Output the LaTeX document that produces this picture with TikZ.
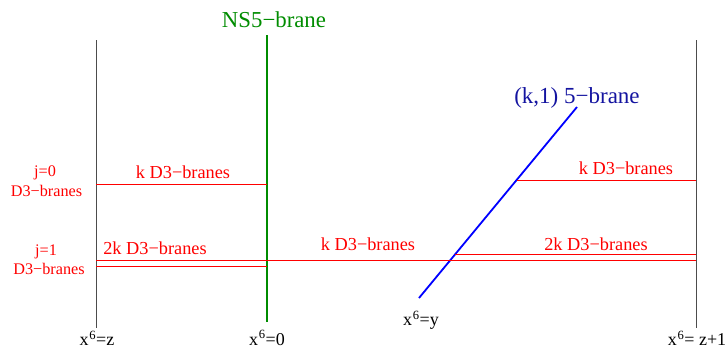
\documentclass[tikz,border=0pt]{standalone}
\usepackage{fontspec}
\setmainfont{Liberation Serif}
\definecolor{nsgreen}{RGB}{0,140,0}
\definecolor{kblue}{RGB}{20,20,160}
\newcommand{\xsix}{x\kern0.8pt\textsuperscript{6}}
\begin{document}
\begin{tikzpicture}[x=1pt,y=-1pt,
  bound/.style={draw=black!70,line width=0.9pt},
  nsline/.style={draw=nsgreen,line width=1.8pt},
  kline/.style={draw=blue,line width=1.8pt},
  dthree/.style={draw=red,line width=0.9pt},
  rlab/.style={text=red,font=\fontsize{18.3}{20}\selectfont,inner sep=0pt},
  jlab/.style={text=red,font=\fontsize{16.2}{18}\selectfont,inner sep=0pt},
  xlab/.style={font=\fontsize{18}{20}\selectfont,inner sep=0pt}]
\useasboundingbox (0,0) rectangle (728,349);
% brane end points
\coordinate (Lt) at (96,40);  \coordinate (Lb) at (96,328);
\coordinate (Rt) at (696,40); \coordinate (Rb) at (696,328);
\coordinate (Nt) at (267,35); \coordinate (Nb) at (267,322);
\coordinate (Kb) at (419,298); \coordinate (Kt) at (577,107);
\draw[bound] (Lt) -- (Lb);
\draw[bound] (Rt) -- (Rb);
\draw[nsline] (Nt) -- (Nb);
\draw[kline] (Kb) -- (Kt);
% D3 brane segments
\coordinate (a1) at (96,184);  \coordinate (a2) at (267,184);
\coordinate (b1) at (517,180); \coordinate (b2) at (696,180);
\coordinate (c1) at (96,260);  \coordinate (c2) at (696,260);
\coordinate (d1) at (96,266.5);  \coordinate (d2) at (267,266.5);
\coordinate (e1) at (455,254); \coordinate (e2) at (696,254);
\draw[dthree] (a1) -- (a2);
\draw[dthree] (b1) -- (b2);
\draw[dthree] (c1) -- (c2);
\draw[dthree] (d1) -- (d2);
\draw[dthree] (e1) -- (e2);
% labels
\node[text=nsgreen,font=\fontsize{22.8}{24}\selectfont,inner sep=0pt] (ns) at (274,20) {NS5−brane};
\node[text=kblue,font=\fontsize{23}{25}\selectfont,inner sep=0pt] (kb) at (577,98) {(k,1) 5−brane};
\node[rlab] (l1) at (183,172) {k D3−branes};
\node[rlab] (l2) at (626,168) {k D3−branes};
\node[rlab] (l3) at (155,248) {2k D3−branes};
\node[rlab] (l4) at (368,244) {k D3−branes};
\node[rlab] (l5) at (596,244) {2k D3−branes};
\node[jlab] (j0a) at (45,173) {j=0};
\node[jlab] (j0b) at (46.5,191) {D3−branes};
\node[jlab] (j1a) at (46,252) {j=1};
\node[jlab] (j1b) at (49,269) {D3−branes};
\node[xlab] (x1) at (97,338.5) {\xsix=z};
\node[xlab] (x2) at (267,338) {\xsix=0};
\node[xlab] (x3) at (421,320) {\xsix=y};
\node[xlab] (x4) at (697,338.5) {\xsix= z+1};
\end{tikzpicture}
\end{document}
